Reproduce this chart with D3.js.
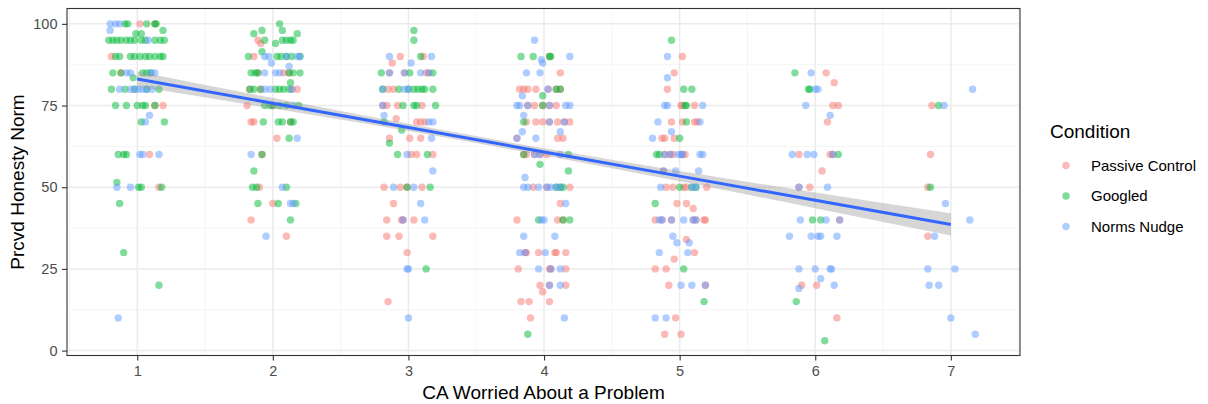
<!DOCTYPE html>
<html>
<head>
<meta charset="utf-8">
<script src="https://cdn.jsdelivr.net/npm/d3@7"></script>
<style>
  html, body { margin: 0; padding: 0; background: #fff; }
  svg { display: block; font-family: "Liberation Sans", Arial, sans-serif; }
</style>
</head>
<body>
<svg id="chart" width="1208" height="404"></svg>
<script>
// Conditions and their colours
const conditions = ["Passive Control", "Googled", "Norms Nudge"];
const conditionColors = ["#F8766D", "#00BA38", "#619CFF"];

// Axis ticks
const xTicks = [1, 2, 3, 4, 5, 6, 7];
const yTicks = [0, 25, 50, 75, 100];

// Jittered responses: [worry score (jittered), perceived honesty norm]
const passiveControl = [
  [1.02,100],[1.13,100],[0.81,90],[0.88,85],[1.13,75],[1.19,75],[1.09,60],[1.16,50],
  [1.91,94],[1.89,95],[1.86,90],[1.89,85],[2.08,85],[2.12,85],[1.83,80],[1.91,80],[2.14,80],[2.18,80],
  [1.81,75],[2.00,75],[1.84,70],[1.86,70],[2.13,70],[2.03,65],[1.92,60],[1.90,50],[2.00,45],[1.84,40],[2.10,35],
  [2.94,90],[3.11,90],[2.88,88],[2.86,85],[2.97,85],[3.13,85],[3.15,85],[2.85,80],[2.89,80],
  [2.81,75],[2.84,75],[2.92,75],[3.10,75],[2.91,71],[3.06,70],[3.09,70],[3.12,70],[2.86,65],[3.01,65],[3.09,65],
  [3.02,60],[3.06,60],[3.18,60],[2.82,50],[2.94,50],[2.99,50],[3.10,50],[2.89,45],[2.84,40],[2.95,40],[2.96,40],
  [3.04,40],[2.84,35],[2.93,35],[3.18,35],[2.99,30],[2.85,15],
  [4.04,90],[4.12,85],[3.82,80],[3.85,80],[3.88,80],[3.94,80],[4.03,80],[4.09,80],[4.12,80],
  [3.88,75],[3.93,75],[3.99,75],[4.04,75],[4.09,75],[3.87,70],[3.94,70],[3.99,70],[4.04,70],[4.10,70],[4.15,70],[4.19,70],
  [3.80,65],[4.10,65],[4.14,65],[3.85,60],[3.87,60],[3.93,60],[3.97,60],[4.02,60],[3.92,50],[4.02,50],[4.19,50],
  [4.12,45],[3.80,40],[4.10,40],[4.14,40],[3.86,30],[3.87,30],[3.96,30],[4.08,30],[4.09,30],[4.16,30],
  [3.81,25],[4.04,25],[4.05,25],[4.16,25],[3.97,20],[4.04,20],[4.16,20],[3.99,18],[3.83,15],[3.89,15],[4.04,15],[3.90,10],
  [5.02,90],[4.96,85],[4.91,80],[5.01,75],[5.02,75],[5.11,75],[4.94,70],[5.02,70],[5.11,70],[5.13,70],
  [4.87,65],[4.89,65],[4.96,65],[4.89,60],[4.93,60],[4.95,60],[5.02,60],[5.04,60],[4.88,55],
  [4.90,50],[4.95,50],[5.03,50],[5.05,50],[5.20,50],[4.98,45],[5.05,45],[5.10,43.5],
  [4.82,40],[4.87,40],[4.94,40],[5.10,40],[5.12,40],[5.18,40],[5.19,40],[5.05,34],[5.11,30],[4.96,28],
  [4.82,25],[4.90,25],[4.92,20],[5.19,20],[4.97,10],[4.89,5],[5.01,5],
  [6.08,85],[6.14,82],[6.13,75],[6.17,75],[6.09,70],[5.88,60],[6.11,60],[6.13,60],[6.05,55],
  [5.88,50],[5.96,50],[6.18,40],[5.90,20],[6.01,20],[6.16,10],
  [6.86,75],[6.85,60],[6.83,50],[6.83,35]
];

const googled = [
  [0.91,100],[0.93,100],[1.07,100],[1.13,100],[1.14,100],[1.19,98],[0.99,97],[1.03,97],
  [0.79,95],[0.82,95],[0.85,95],[0.88,95],[0.92,95],[0.95,95],[0.98,95],[1.03,95],[1.06,95],[1.13,95],[1.17,95],[1.20,95],
  [0.84,90],[0.87,90],[0.95,90],[0.98,90],[1.02,90],[1.06,90],[1.09,90],[1.13,90],[1.17,90],[1.19,90],
  [0.82,85],[0.88,85],[0.97,83.5],[1.04,85],[1.07,85],[1.10,85],
  [0.81,80],[0.91,80],[0.98,80],[1.07,80],[1.16,80],
  [0.84,75],[0.92,75],[1.00,75],[1.04,75],[1.06,75],[1.13,75],
  [1.03,70],[1.20,70],[0.86,60],[0.90,60],[0.92,60],
  [0.85,51.5],[1.01,50],[1.03,50],[1.18,50],[0.87,45],[0.90,30],[1.16,20],
  [1.92,98],[2.05,100],[2.07,98],[2.18,97],[1.86,97],[1.94,95],[2.02,94],[2.07,95],[2.10,95],[2.13,95],[2.15,95],
  [1.82,90],[1.92,91.5],[2.03,90],[2.06,90],[2.10,90],[2.14,90],[2.20,90],
  [1.84,85],[1.87,85],[1.89,85],[2.12,85],[2.15,85],[2.20,85],[2.13,82],
  [1.83,80],[1.86,80],[1.91,80],[2.02,80],[2.05,80],[2.08,80],[2.12,80],
  [1.94,75],[1.98,75],[2.00,75],[2.05,75],[2.10,75],[2.19,75],
  [1.93,70],[2.04,70],[2.07,70],[2.13,70],[2.15,70],
  [2.12,65],[1.92,60],[1.86,55],[1.85,50],[1.88,50],[2.10,50],[1.89,45],[2.04,45],[2.17,45],[2.13,40],
  [3.04,98],[3.04,95],[3.09,90],[2.80,85],[3.01,85],[3.18,85],
  [2.81,80],[2.93,80],[3.00,80],[3.04,80],[3.07,80],[3.10,80],[3.12,80],[3.18,80],
  [2.96,75],[3.04,75],[3.06,75],[3.20,75],[2.82,70],[2.95,67.5],[2.86,63.5],
  [2.92,60],[3.14,60],[2.99,50],[3.16,50],[3.13,25],
  [3.83,90],[3.92,90],[4.04,90],[4.05,90],[4.09,80],[4.12,80],[3.99,78],[3.99,75],[3.85,70],
  [3.85,60],[4.18,60],[3.97,57],[4.18,55],[4.09,50],[4.12,50],[4.14,50],[3.96,40],[4.14,40],[4.19,40],[3.88,5],
  [4.94,95],[5.03,80],[5.09,80],[5.04,75],[5.05,75],[5.05,70],[5.00,65],[4.83,60],[4.85,60],
  [5.00,50],[5.09,50],[5.12,50],[4.82,45],[5.03,25],[5.18,15],
  [5.85,85],[5.95,80],[5.96,80],[6.17,60],[5.98,40],[6.04,40],[5.86,15],[6.07,3],
  [6.91,75],[6.85,50]
];

const normsNudge = [
  [0.80,100],[0.84,100],[0.87,100],[0.80,98],[1.08,95],[0.92,85],[0.95,85],[1.10,85],[1.13,85],
  [0.87,80],[0.95,80],[0.98,80],[1.01,80],[1.04,80],[1.07,80],[1.11,80],[1.06,70],[1.09,72],
  [1.02,60],[1.04,60],[1.16,60],[0.85,50],[0.95,50],[0.86,10],
  [1.94,90],[1.97,90],[1.99,88],[2.10,90],[2.18,90],[2.20,90],[2.12,87],[1.94,85],[2.02,85],[2.05,85],
  [1.94,80],[1.98,80],[2.14,80],[2.15,75],[2.18,65],[1.84,60],[2.07,50],[2.13,45],[2.15,45],[1.95,35],
  [2.86,90],[3.17,90],[3.02,88],[2.86,85],[2.97,85],[3.09,85],[3.15,85],[2.81,80],[2.97,80],[3.00,80],
  [2.81,75],[2.82,72],[3.15,70],[3.18,70],[3.17,65],[2.99,60],[3.18,55],[2.89,50],[3.04,50],[3.09,45],
  [2.96,40],[3.12,40],[2.99,25],[3.00,25],[3.00,10],
  [3.93,95],[3.98,89],[3.99,88],[4.19,90],[3.87,85],[3.97,85],[4.03,80],[3.84,78],
  [3.80,75],[3.82,75],[3.88,75],[4.04,75],[4.16,75],[4.19,75],[3.85,72],[4.04,70],[4.15,70],[3.84,67],[4.12,67],
  [3.80,65],[3.94,65],[3.93,60],[3.97,60],[4.12,60],[3.86,53],[3.85,50],[3.88,50],[3.96,50],[4.02,50],
  [4.05,50],[4.09,50],[4.12,50],[4.16,45],[3.98,40],[4.00,40],[3.85,35],[4.08,35],[3.82,30],[3.86,30],[4.01,30],
  [3.96,25],[4.05,25],[4.12,25],[4.04,20],[4.12,20],[4.15,10],
  [4.91,90],[4.91,83.5],[4.89,75],[4.91,75],[5.17,75],[4.84,70],[5.15,70],[4.94,67],[4.80,65],
  [4.89,60],[4.93,60],[4.99,60],[5.01,60],[5.02,60],[5.15,60],[5.17,60],[4.88,55],[4.97,55],[5.14,55],
  [4.86,50],[5.09,50],[5.12,50],[4.85,40],[4.87,40],[4.94,40],[5.03,40],[5.10,40],[5.12,40],
  [4.95,35],[4.98,33],[5.07,33],[4.85,30],[5.06,30],[5.01,20],[5.09,20],[5.19,20],[4.82,10],[4.90,10],
  [5.97,85],[6.00,80],[6.02,80],[5.93,75],[6.11,72],[5.83,60],[5.94,60],[5.99,60],[6.13,60],
  [5.88,50],[6.09,50],[5.89,40],[6.08,40],[6.18,40],[5.81,35],[5.97,35],[6.02,35],[6.04,35],[6.16,35],
  [5.88,25],[6.00,25],[6.11,25],[6.12,25],[6.04,22],[5.88,19],[6.14,20],
  [7.16,80],[6.95,75],[6.96,45],[7.14,40],[6.88,35],[6.83,25],[7.03,25],[6.84,20],[6.91,20],[7.00,10],[7.18,5]
];

// Linear fit with 95% confidence band
const smoothX     = [1, 2, 3, 4, 5, 6, 7];
const smoothFit   = [83.1, 75.7, 68.3, 60.8, 53.4, 46.0, 38.6];
const smoothLower = [80.8, 74.1, 67.2, 59.7, 51.8, 43.6, 35.2];
const smoothUpper = [85.4, 77.3, 69.4, 61.9, 55.0, 48.4, 42.0];

const seriesData = [passiveControl, googled, normsNudge];

// Layout
const panel = { left: 67, right: 1020, top: 8.5, bottom: 355.5 };
const tickFont = 14.5;
const titleFont = 19;
const legendFont = 15;

const svg = d3.select("#chart");

const x = d3.scaleLinear().domain([0.482, 7.51]).range([panel.left, panel.right]);
const y = d3.scaleLinear().domain([-1.5, 104.7]).range([panel.bottom, panel.top]);

// Panel background
svg.append("rect")
  .attr("x", panel.left).attr("y", panel.top)
  .attr("width", panel.right - panel.left).attr("height", panel.bottom - panel.top)
  .attr("fill", "#fff");

// Grid: minor lines halfway between ticks, major at ticks
const grid = svg.append("g");
const xMinor = d3.range(0.5, 8, 1).filter(v => v > x.domain()[0] && v < x.domain()[1]);
const yMinor = [12.5, 37.5, 62.5, 87.5];
grid.selectAll("line.xminor").data(xMinor).join("line")
  .attr("x1", d => x(d)).attr("x2", d => x(d))
  .attr("y1", panel.top).attr("y2", panel.bottom)
  .attr("stroke", "#F2F2F2").attr("stroke-width", 0.8);
grid.selectAll("line.yminor").data(yMinor).join("line")
  .attr("y1", d => y(d)).attr("y2", d => y(d))
  .attr("x1", panel.left).attr("x2", panel.right)
  .attr("stroke", "#F2F2F2").attr("stroke-width", 0.8);
grid.selectAll("line.xmajor").data(xTicks).join("line")
  .attr("x1", d => x(d)).attr("x2", d => x(d))
  .attr("y1", panel.top).attr("y2", panel.bottom)
  .attr("stroke", "#EBEBEB").attr("stroke-width", 1.5);
grid.selectAll("line.ymajor").data(yTicks).join("line")
  .attr("y1", d => y(d)).attr("y2", d => y(d))
  .attr("x1", panel.left).attr("x2", panel.right)
  .attr("stroke", "#EBEBEB").attr("stroke-width", 1.5);

// Points
const pts = svg.append("g");
seriesData.forEach((data, i) => {
  pts.append("g").selectAll("circle").data(data).join("circle")
    .attr("cx", d => x(d[0]))
    .attr("cy", d => y(d[1]))
    .attr("r", 3.7)
    .attr("fill", conditionColors[i])
    .attr("fill-opacity", 0.5);
});

// Confidence band and fitted line
const bandData = smoothX.map((v, i) => ({ x: v, lo: smoothLower[i], hi: smoothUpper[i], fit: smoothFit[i] }));
svg.append("path")
  .datum(bandData)
  .attr("d", d3.area().x(d => x(d.x)).y0(d => y(d.lo)).y1(d => y(d.hi)).curve(d3.curveMonotoneX))
  .attr("fill", "#999999").attr("fill-opacity", 0.4);
svg.append("path")
  .datum(bandData)
  .attr("d", d3.line().x(d => x(d.x)).y(d => y(d.fit)))
  .attr("fill", "none").attr("stroke", "#3366FF").attr("stroke-width", 3);

// Panel border
svg.append("rect")
  .attr("x", panel.left).attr("y", panel.top)
  .attr("width", panel.right - panel.left).attr("height", panel.bottom - panel.top)
  .attr("fill", "none").attr("stroke", "#333333").attr("stroke-width", 1.1);

// Axes
const xAxis = svg.append("g")
  .attr("transform", `translate(0,${panel.bottom})`)
  .call(d3.axisBottom(x).tickValues(xTicks).tickFormat(d3.format("d")).tickSize(5).tickPadding(5.5));
const yAxis = svg.append("g")
  .attr("transform", `translate(${panel.left},0)`)
  .call(d3.axisLeft(y).tickValues(yTicks).tickFormat(d3.format("d")).tickSize(5).tickPadding(4.5));
[xAxis, yAxis].forEach(a => {
  a.select(".domain").remove();
  a.selectAll(".tick line").attr("stroke", "#333333").attr("stroke-width", 1.1);
  a.selectAll(".tick text").attr("fill", "#4D4D4D").attr("font-size", tickFont)
    .attr("font-family", "Liberation Sans, Arial, sans-serif");
});

// Axis titles
svg.append("text")
  .attr("x", (panel.left + panel.right) / 2).attr("y", 399)
  .attr("text-anchor", "middle").attr("font-size", titleFont).attr("fill", "#000")
  .text("CA Worried About a Problem");
svg.append("text")
  .attr("transform", `translate(24,${(panel.top + panel.bottom) / 2}) rotate(-90)`)
  .attr("text-anchor", "middle").attr("font-size", titleFont).attr("fill", "#000")
  .text("Prcvd Honesty Norm");

// Legend
const legend = svg.append("g").attr("transform", "translate(1050,0)");
legend.append("text").attr("x", 0).attr("y", 138.3)
  .attr("font-size", titleFont).attr("fill", "#000").text("Condition");
const items = legend.selectAll("g.item").data(conditions).join("g")
  .attr("transform", (d, i) => `translate(0,${165.5 + i * 30.5})`);
items.append("circle").attr("cx", 16).attr("cy", 0).attr("r", 3.7)
  .attr("fill", (d, i) => conditionColors[i]).attr("fill-opacity", 0.5);
items.append("text").attr("x", 41).attr("y", 0).attr("dy", "0.36em")
  .attr("font-size", legendFont).attr("fill", "#000").text(d => d);
</script>
</body>
</html>
